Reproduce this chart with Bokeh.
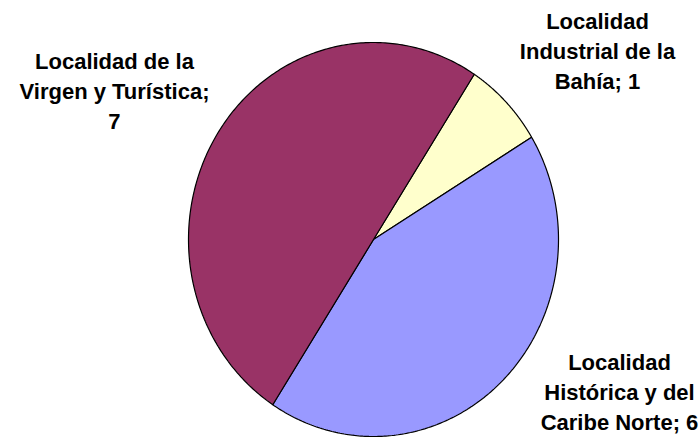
import numpy as np
from bokeh.plotting import figure
from bokeh.models import Range1d, ColumnDataSource
from bokeh.core.properties import value
from bokeh.embed import file_html
from bokeh.resources import INLINE

# ---- data ----
categories = ["Localidad Industrial de la Bahía",
              "Localidad Histórica y del Caribe Norte",
              "Localidad de la Virgen y Turística"]
values = [1, 6, 7]
labels = ["Localidad\nIndustrial de la\nBahía; 1",
          "Localidad\nHistórica y del\nCaribe Norte; 6",
          "Localidad de la\nVirgen y Turística;\n7"]
colors = ["#FFFFCC", "#9999FF", "#993366"]

# ---- layout ----
W, H = 700, 441
cx_px, cy_px = 373, 239            # pie centre in pixels (from top-left)
rx_px, ry_px = 185, 197            # pixels per data unit
p = figure(width=W, height=H, output_backend="svg", toolbar_location=None,
           x_range=Range1d(-cx_px / rx_px, (W - cx_px) / rx_px),
           y_range=Range1d(-(H - cy_px) / ry_px, cy_px / ry_px),
           min_border=0)
p.axis.visible = False
p.grid.visible = False
p.outline_line_color = None
p.background_fill_color = "white"

start_deg = 57.0
total = float(sum(values))
xs, ys = [], []
a0 = np.deg2rad(start_deg)
for v in values:
    a1 = a0 - 2 * np.pi * v / total
    t = np.linspace(a0, a1, 240)
    xs.append(np.concatenate([[0.0], np.cos(t), [0.0]]))
    ys.append(np.concatenate([[0.0], np.sin(t), [0.0]]))
    a0 = a1

src = ColumnDataSource(dict(xs=xs, ys=ys, color=colors, cat=categories))
p.patches("xs", "ys", fill_color="color", line_color="black", line_width=1.2, source=src)

# label positions (layout, pixel coords converted to data units)
lab_px = [(597, 51), (619, 392), (114, 91)]
lab_x = [(px - cx_px) / rx_px for px, py in lab_px]
lab_y = [(cy_px - py) / ry_px for px, py in lab_px]
lsrc = ColumnDataSource(dict(x=lab_x, y=lab_y, text=labels))
p.text("x", "y", text="text", source=lsrc, text_align="center", text_baseline="middle",
       text_font=value("Liberation Sans"), text_font_style="bold",
       text_font_size="22px", text_color="black", text_line_height=1.2)

open("out.html", "w").write(file_html(p, INLINE))
